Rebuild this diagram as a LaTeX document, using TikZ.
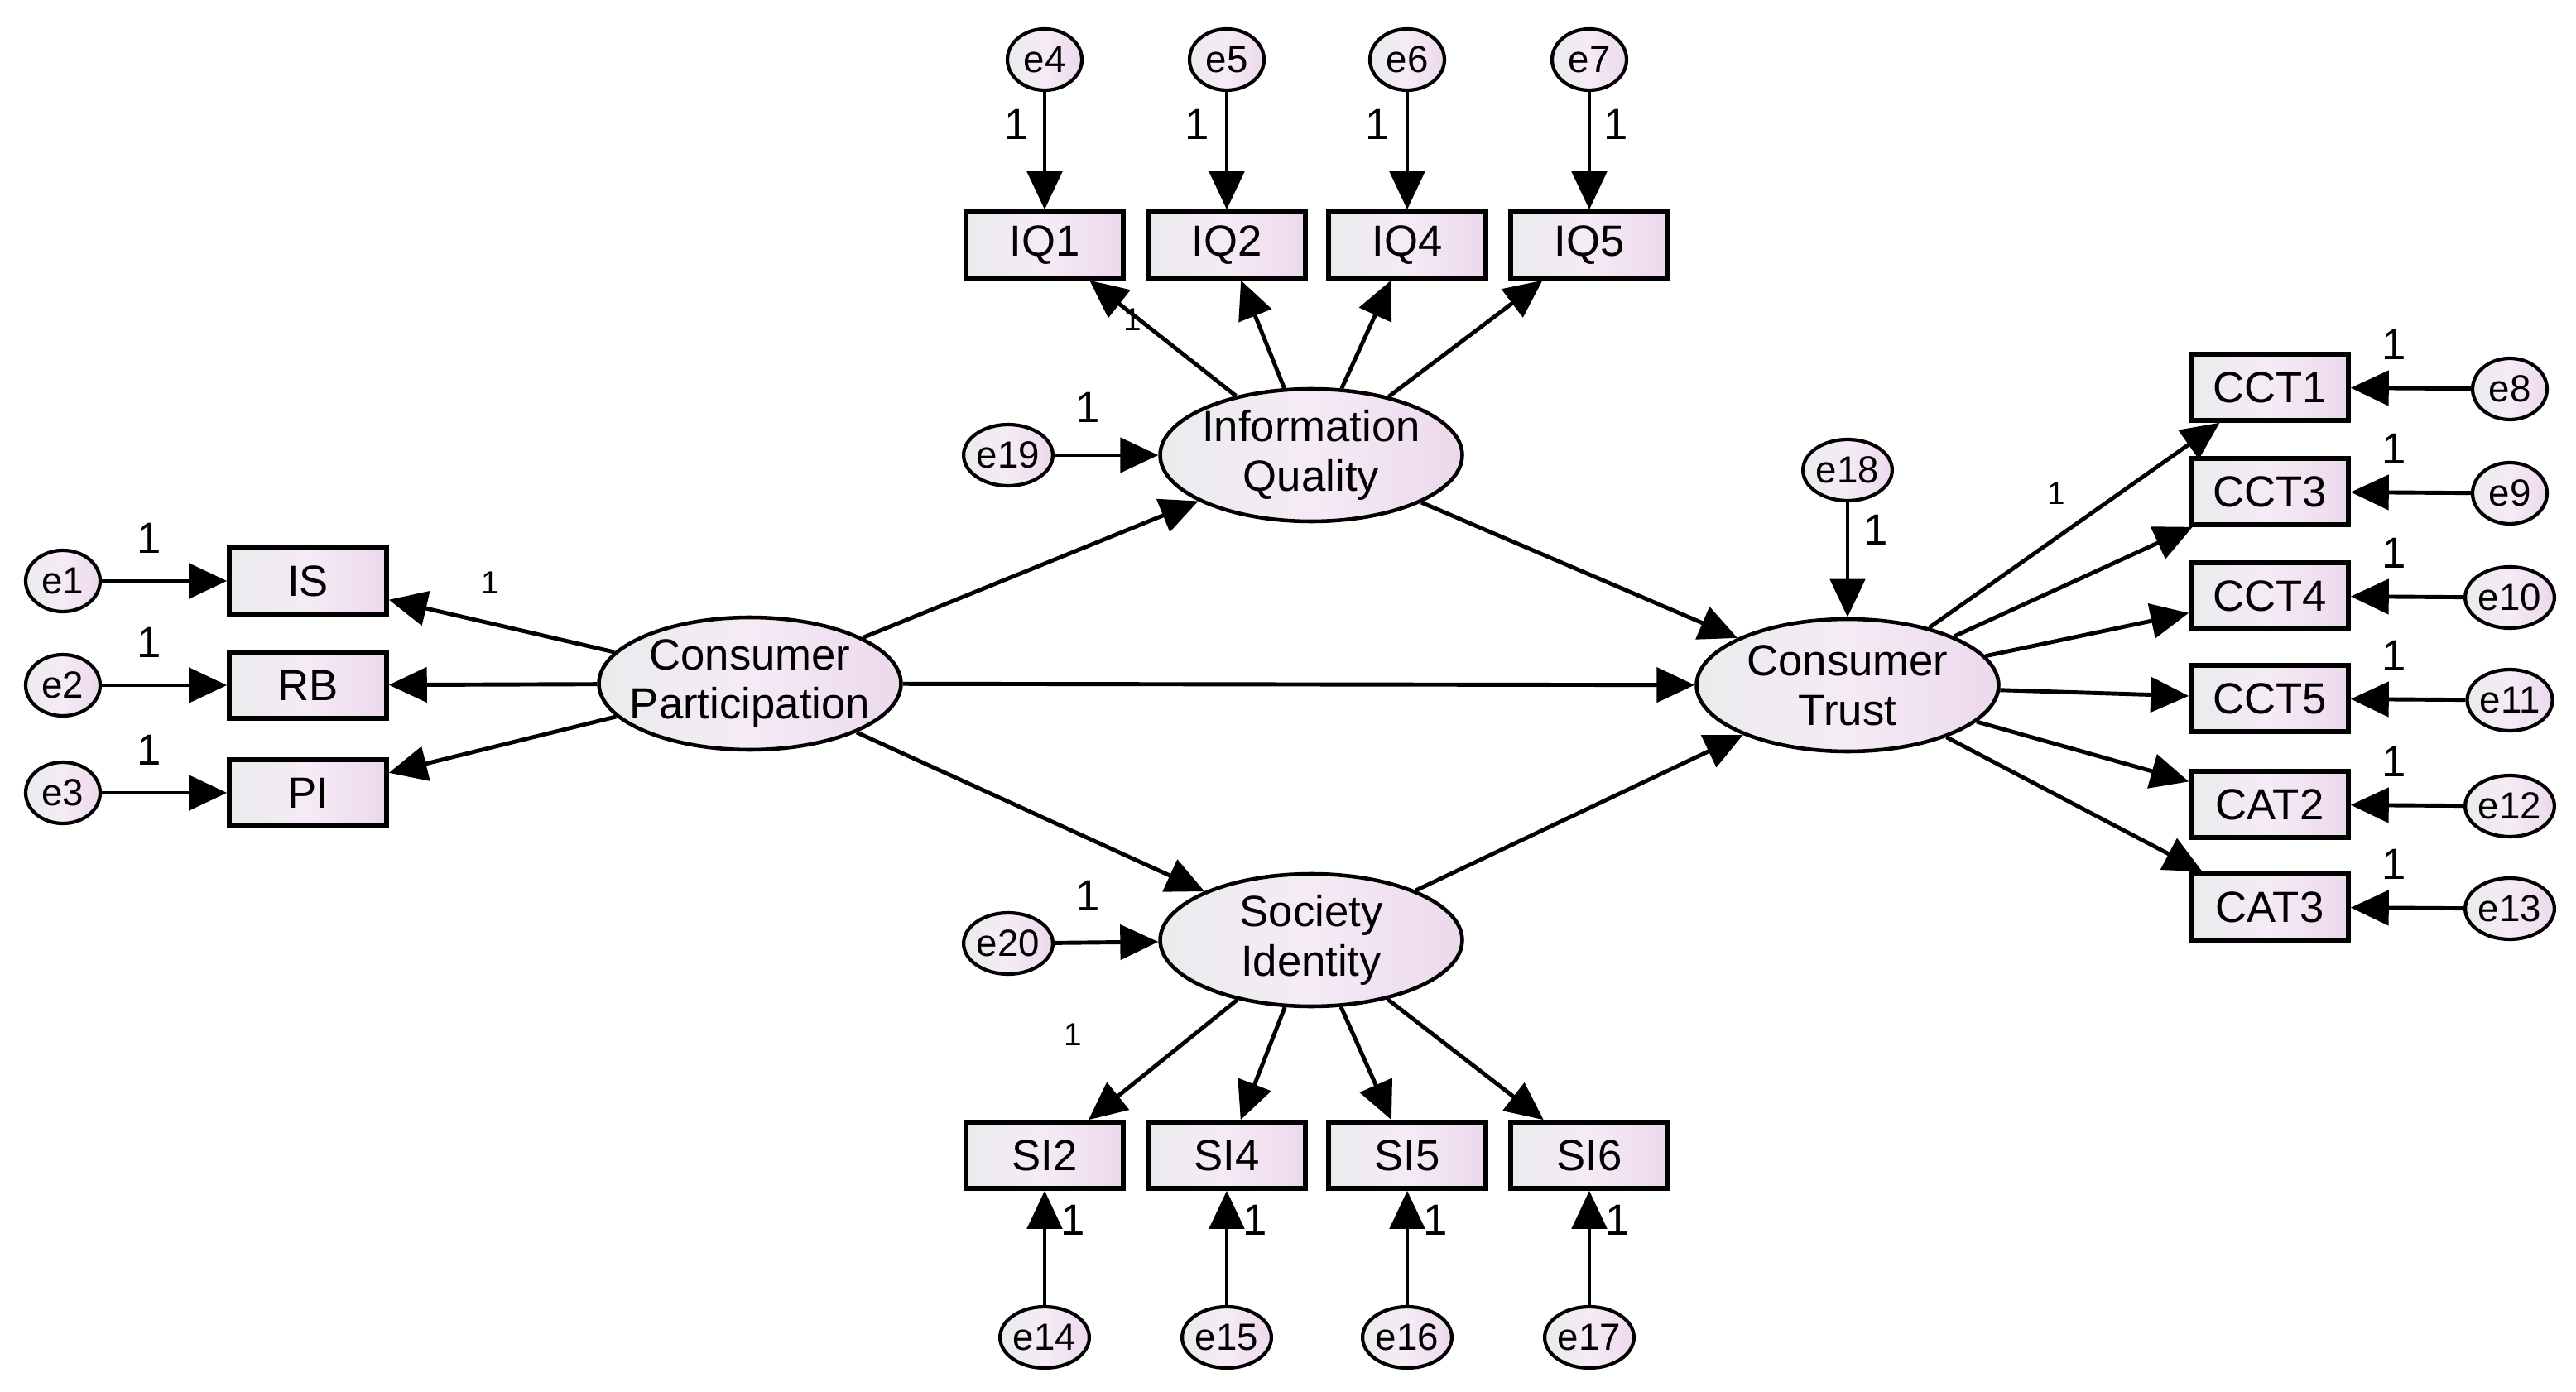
\documentclass[tikz,border=0pt]{standalone}
\usepackage{fontspec}
\setmainfont{Liberation Sans}
\usetikzlibrary{arrows.meta,shapes.geometric}
\begin{document}
\begin{tikzpicture}[x=0.02cm,y=-0.02cm,
    shade fill/.style={left color=blue!6!gray!15, right color=violet!15, middle color=violet!8},
    obs/.style={rectangle, draw, line width=1.6pt, shade fill, minimum width=1.9cm, minimum height=0.8cm, inner sep=0pt, font=\fontsize{15}{17}\selectfont},
    err/.style={ellipse, draw, line width=1.2pt, shade fill, minimum width=0.9cm, minimum height=0.74cm, inner sep=0pt, font=\fontsize{13}{15}\selectfont},
    lat/.style={ellipse, draw, line width=1.3pt, shade fill, minimum width=3.65cm, minimum height=1.6cm, inner sep=0pt},
    ltxt/.style={align=center, font=\fontsize{15}{17}\selectfont, inner sep=0pt},
    one/.style={font=\fontsize{15}{15}\selectfont, inner sep=0pt},
    sone/.style={font=\fontsize{11}{11}\selectfont, inner sep=0pt},
    arr/.style={-{Triangle[length=0.46cm,width=0.42cm]}, line width=1.4pt}
]
\useasboundingbox (0,0) rectangle (1556,841);

% latent variables
\node[lat] (cp) at (453,413) {};
\node[ltxt] (cpt) at (cp) {Consumer\\Participation};
\node[lat] (iq) at (792,275) {};
\node[ltxt] (iqt) at (iq) {Information\\Quality};
\node[lat] (si) at (792,568) {};
\node[ltxt] (sit) at (si) {Society\\Identity};
\node[lat] (ct) at (1116,414) {};
\node[ltxt] (ctt) at (ct) {Consumer\\Trust};

% consumer participation indicators
\foreach \n/\y [count=\i] in {IS/351,RB/414,PI/479}{
  \node[obs] (\n) at (186,\y) {\n};
  \node[err] (e\i) at (38,\y) {e\i};
  \draw[arr] (e\i) -- (\n);
  \draw[arr] (cp) -- (\n);
  \node[one] at (90,\y-26) {1};
}
\node[sone] at (296,352) {1};

% information quality indicators
\foreach \n/\x/\e/\lx in {IQ1/631/4/614,IQ2/741/5/723,IQ4/850/6/832,IQ5/960/7/976}{
  \node[obs] (\n) at (\x,148) {\n};
  \node[err] (e\e) at (\x,36) {e\e};
  \draw[arr] (e\e) -- (\n);
  \draw[arr] (iq) -- (\n);
  \node[one] at (\lx,75) {1};
}
\node[sone] at (684,193) {1};

% society identity indicators
\foreach \n/\x/\e in {SI2/631/14,SI4/741/15,SI5/850/16,SI6/960/17}{
  \node[obs] (\n) at (\x,698) {\n};
  \node[err] (e\e) at (\x,808) {e\e};
  \draw[arr] (e\e) -- (\n);
  \draw[arr] (si) -- (\n);
  \node[one] at (\x+17,737) {1};
}
\node[sone] at (648,625) {1};

% consumer trust indicators
\foreach \n/\y/\e in {CCT1/234/8,CCT3/297/9,CCT4/360/10,CCT5/422/11,CAT2/486/12,CAT3/548/13}{
  \node[obs] (\n) at (1371,\y) {\n};
  \node[err] (e\e) at (1516,\y+1) {e\e};
  \draw[arr] (e\e) -- (\n);
  \draw[arr] (ct) -- (\n);
  \node[one] at (1446,\y-26) {1};
}
\node[sone] at (1242,298) {1};

% disturbances
\node[err] (e19) at (609,275) {e19};
\node[err] (e20) at (609,570) {e20};
\node[err] (e18) at (1116,284) {e18};
\draw[arr] (e19) -- (iq);
\draw[arr] (e20) -- (si);
\draw[arr] (e18) -- (ct);
\node[one] at (657,246) {1};
\node[one] at (657,541) {1};
\node[one] at (1133,320) {1};

% structural paths
\draw[arr] (cp) -- (iq);
\draw[arr] (cp) -- (si);
\draw[arr] (cp) -- (ct);
\draw[arr] (iq) -- (ct);
\draw[arr] (si) -- (ct);
\end{tikzpicture}
\end{document}
